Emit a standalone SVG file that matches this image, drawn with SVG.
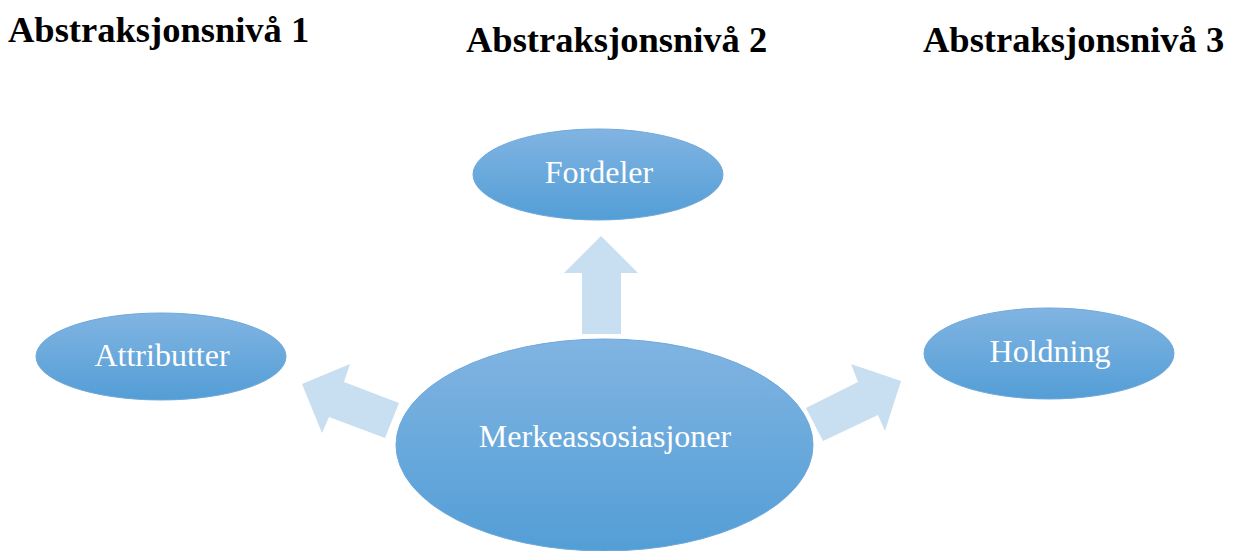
<svg xmlns="http://www.w3.org/2000/svg" width="1236" height="551" viewBox="0 0 1236 551">
<defs>
<linearGradient id="g" x1="0" y1="0" x2="0" y2="1">
<stop offset="0" stop-color="#81B4E2"/>
<stop offset="1" stop-color="#539ED6"/>
</linearGradient>
</defs>
<style>
.title{font-family:"Liberation Serif","Times New Roman",serif;font-weight:bold;font-size:36.5px;fill:#000}
.node{fill:url(#g);stroke:#6FA9DB;stroke-width:1}
.lbl{font-family:"Liberation Serif","Times New Roman",serif;font-size:32px;fill:#fff;text-anchor:middle}
.arr{fill:#C8DEF1}
</style>
<rect width="1236" height="551" fill="#fff"/>
<g id="titles">
<text class="title" x="8" y="42">Abstraksjonsnivå 1</text>
<text class="title" x="466" y="52">Abstraksjonsnivå 2</text>
<text class="title" x="923" y="52">Abstraksjonsnivå 3</text>
</g>
<g id="connectors">
<polygon class="arr" points="601,236 638,273 621,273 621,334 582,334 582,273 564,273"/>
<polygon class="arr" points="302,384 350,364 344,382 399,403 385,438 329,417 322,433"/>
<polygon class="arr" points="901,381 885,431 878,415 823,441 806,408 858,382 851,364"/>
</g>
<g id="fordeler">
<ellipse class="node" cx="598" cy="174.5" rx="125" ry="45.5"/>
<text class="lbl" x="599" y="183">Fordeler</text>
</g>
<g id="attributter">
<ellipse class="node" cx="161" cy="356.5" rx="125" ry="43.5"/>
<text class="lbl" x="162" y="366">Attributter</text>
</g>
<g id="holdning">
<ellipse class="node" cx="1049" cy="353.5" rx="125" ry="45.5"/>
<text class="lbl" x="1050" y="362">Holdning</text>
</g>
<g id="merkeassosiasjoner">
<ellipse class="node" cx="604.5" cy="445" rx="208.5" ry="106"/>
<text class="lbl" x="605" y="447">Merkeassosiasjoner</text>
</g>
</svg>
